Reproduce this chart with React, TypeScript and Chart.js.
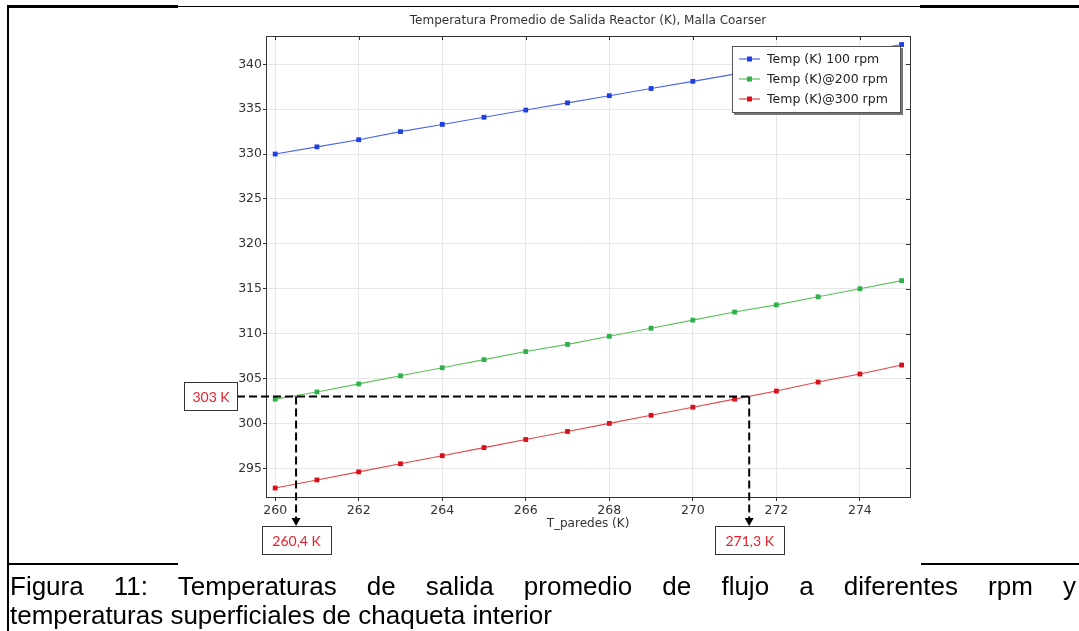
import React, { useEffect, useRef } from 'react';
import { Chart, registerables } from 'chart.js';

Chart.register(...registerables);

// ---------- data ----------
const tParedes = [260, 261, 262, 263, 264, 265, 266, 267, 268, 269, 270, 271, 272, 273, 274, 275];
const temp100 = [330.0, 330.8, 331.6, 332.5, 333.3, 334.1, 334.9, 335.7, 336.5, 337.3, 338.1, 338.9, 339.7, 340.6, 341.4, 342.2];
const temp200 = [302.7, 303.5, 304.4, 305.3, 306.2, 307.1, 308.0, 308.8, 309.7, 310.6, 311.5, 312.4, 313.2, 314.1, 315.0, 315.9];
const temp300 = [292.8, 293.7, 294.6, 295.5, 296.4, 297.3, 298.2, 299.1, 300.0, 300.9, 301.8, 302.7, 303.6, 304.6, 305.5, 306.5];
const xTicks = [260, 262, 264, 266, 268, 270, 272, 274];
const yTicks = [295, 300, 305, 310, 315, 320, 325, 330, 335, 340];
const seriesLabels = ['Temp (K) 100 rpm', 'Temp (K)@200 rpm', 'Temp (K)@300 rpm'];
const lineColors = ['#4a66e8', '#5cc05c', '#e04848'];
const markerColors = ['#1f3fe0', '#2fb04a', '#d8101c'];
const chartTitle = 'Temperatura Promedio de Salida Reactor (K), Malla Coarser';
const xAxisTitle = 'T_paredes (K)';
const refTemp = 303;
const refLabel = '303 K';
const crossX = [260.5, 271.35];
const crossLabels = ['260,4 K', '271,3 K'];
const caption1 = 'Figura 11: Temperaturas de salida promedio de flujo a diferentes rpm y';
const caption2 = 'temperaturas superficiales de chaqueta interior';

const FONT = '"DejaVu Sans", sans-serif';

const decorPlugin = {
  id: 'decor',
  afterDraw(chart: any) {
    const { ctx, chartArea: a, scales } = chart;
    const x = scales.x;
    const y = scales.y;
    ctx.save();

    // frame
    ctx.strokeStyle = '#333';
    ctx.lineWidth = 1;
    ctx.strokeRect(Math.round(a.left) + 0.5, Math.round(a.top) + 0.5, Math.round(a.right - a.left), Math.round(a.bottom - a.top));
    // top ticks (inward) and right ticks (inward)
    ctx.beginPath();
    xTicks.forEach((v) => {
      const px = Math.round(x.getPixelForValue(v)) + 0.5;
      ctx.moveTo(px, a.top);
      ctx.lineTo(px, a.top + 4);
    });
    yTicks.forEach((v) => {
      const py = Math.round(y.getPixelForValue(v)) + 0.5;
      ctx.moveTo(a.right, py);
      ctx.lineTo(a.right - 4, py);
    });
    ctx.stroke();

    // titles
    const cx = (a.left + a.right) / 2;
    ctx.fillStyle = '#333';
    ctx.font = '12px ' + FONT;
    ctx.textAlign = 'center';
    ctx.textBaseline = 'middle';
    ctx.fillText(chartTitle, cx, a.top - 15);
    ctx.fillText(xAxisTitle, cx, a.bottom + 27);

    // legend
    const lw = 169, lh = 67;
    const lx = a.right - 9 - lw;
    const ly = a.top + 10;
    ctx.fillStyle = '#777';
    ctx.fillRect(lx + 2, ly + 2, lw, lh);
    ctx.fillStyle = '#fff';
    ctx.fillRect(lx, ly, lw, lh);
    ctx.strokeStyle = '#555';
    ctx.strokeRect(lx + 0.5, ly + 0.5, lw - 1, lh - 1);
    ctx.font = '12.5px ' + FONT;
    ctx.textAlign = 'left';
    seriesLabels.forEach((lab, i) => {
      const ey = ly + 13 + i * 20;
      ctx.strokeStyle = lineColors[i];
      ctx.lineWidth = 1.2;
      ctx.beginPath();
      ctx.moveTo(lx + 7, ey);
      ctx.lineTo(lx + 28, ey);
      ctx.stroke();
      ctx.fillStyle = markerColors[i];
      ctx.fillRect(lx + 15, ey - 2.5, 5, 5);
      ctx.fillStyle = '#222';
      ctx.fillText(lab, lx + 35, ey + 1);
    });

    // annotation: dashed guide lines
    const yr = y.getPixelForValue(refTemp);
    const xr = crossX.map((v) => x.getPixelForValue(v));
    const tipY = a.bottom + 29;
    const boxRight = a.left - 29;
    ctx.strokeStyle = '#000';
    ctx.lineWidth = 2;
    ctx.setLineDash([8, 4]);
    ctx.beginPath();
    ctx.moveTo(boxRight, yr);
    ctx.lineTo(Math.max(...xr), yr);
    xr.forEach((px) => {
      ctx.moveTo(px, yr);
      ctx.lineTo(px, tipY - 7);
    });
    ctx.stroke();
    ctx.setLineDash([]);
    ctx.fillStyle = '#000';
    xr.forEach((px) => {
      ctx.beginPath();
      ctx.moveTo(px - 4.5, tipY - 8);
      ctx.lineTo(px + 4.5, tipY - 8);
      ctx.lineTo(px, tipY);
      ctx.closePath();
      ctx.fill();
    });

    // annotation boxes
    const drawBox = (bx: number, by: number, bw: number, bh: number, text: string) => {
      ctx.fillStyle = '#fff';
      ctx.fillRect(bx, by, bw, bh);
      ctx.strokeStyle = '#333';
      ctx.lineWidth = 1;
      ctx.strokeRect(Math.round(bx) + 0.5, Math.round(by) + 0.5, bw, bh);
      ctx.fillStyle = '#e8202a';
      ctx.font = '14px Lato, sans-serif';
      ctx.textAlign = 'center';
      ctx.textBaseline = 'middle';
      ctx.fillText(text, bx + bw / 2 + 0.5, by + bh / 2 + 1);
    };
    drawBox(boxRight - 53, yr - 14, 53, 28, refLabel);
    xr.forEach((px, i) => drawBox(px - 34.5, tipY, 69, 28, crossLabels[i]));

    ctx.restore();
  },
};

export default function App() {
  const ref = useRef<HTMLCanvasElement | null>(null);

  useEffect(() => {
    if (!ref.current) return;
    const mk = (vals: number[]) => tParedes.map((t, i) => ({ x: t, y: vals[i] }));
    const chart = new Chart(ref.current, {
      type: 'line',
      data: {
        datasets: [temp100, temp200, temp300].map((vals, i) => ({
          label: seriesLabels[i],
          data: mk(vals),
          borderColor: lineColors[i],
          backgroundColor: markerColors[i],
          pointBackgroundColor: markerColors[i],
          pointBorderColor: markerColors[i],
          pointBorderWidth: 0,
          pointStyle: 'rect',
          pointRadius: 3.4,
          borderWidth: 1.1,
          tension: 0,
          fill: false,
        })),
      },
      options: {
        animation: false,
        responsive: false,
        devicePixelRatio: 1,
        layout: { padding: { left: 0, right: 169, top: 36, bottom: 0 } },
        plugins: {
          legend: { display: false },
          title: { display: false },
          tooltip: { enabled: false },
        },
        scales: {
          x: {
            type: 'linear',
            min: 259.78,
            max: 275.2,
            afterBuildTicks: (s: any) => {
              s.ticks = xTicks.map((v) => ({ value: v }));
            },
            afterFit: (s: any) => {
              s.height = 63;
            },
            ticks: {
              color: '#333',
              font: { family: 'DejaVu Sans', size: 12.5 },
              padding: 2,
              maxRotation: 0,
              callback: (v: any) => String(v),
            },
            grid: { color: '#e6e6e6', tickColor: '#333', tickLength: 4, drawTicks: true },
            border: { display: true, color: '#333' },
          },
          y: {
            type: 'linear',
            min: 291.8,
            max: 343.15,
            afterBuildTicks: (s: any) => {
              s.ticks = yTicks.map((v) => ({ value: v }));
            },
            afterFit: (s: any) => {
              s.width = 266;
            },
            ticks: {
              color: '#333',
              font: { family: 'DejaVu Sans', size: 12.5 },
              padding: 1,
              callback: (v: any) => String(v),
            },
            grid: { color: '#e6e6e6', tickColor: '#333', tickLength: 3, drawTicks: true },
            border: { display: true, color: '#333' },
          },
        },
      },
      plugins: [decorPlugin],
    });
    return () => chart.destroy();
  }, []);

  const capFont: React.CSSProperties = {
    position: 'absolute',
    left: 10,
    width: 1066,
    fontFamily: '"Liberation Sans", Arial, sans-serif',
    fontSize: 26,
    lineHeight: '29px',
    color: '#000',
    whiteSpace: 'normal',
  };

  return (
    <div style={{ position: 'absolute', left: 0, top: 0, width: 1079, height: 631, background: '#fff', overflow: 'hidden' }}>
      <canvas ref={ref} width={1079} height={560} style={{ position: 'absolute', left: 0, top: 0, width: 1079, height: 560 }} />
      {/* document frame lines */}
      <div style={{ position: 'absolute', left: 7, top: 6, width: 2, height: 625, background: '#000' }} />
      <div style={{ position: 'absolute', left: 7, top: 5, width: 171, height: 3, background: '#000' }} />
      <div style={{ position: 'absolute', left: 178, top: 6, width: 742, height: 1, background: '#000' }} />
      <div style={{ position: 'absolute', left: 920, top: 5, width: 159, height: 3, background: '#000' }} />
      <div style={{ position: 'absolute', left: 7, top: 563, width: 171, height: 2, background: '#000' }} />
      <div style={{ position: 'absolute', left: 921, top: 563, width: 158, height: 2, background: '#000' }} />
      <div style={{ ...capFont, top: 572, textAlign: 'justify', textAlignLast: 'justify' }}>{caption1}</div>
      <div style={{ ...capFont, top: 601 }}>{caption2}</div>
    </div>
  );
}
